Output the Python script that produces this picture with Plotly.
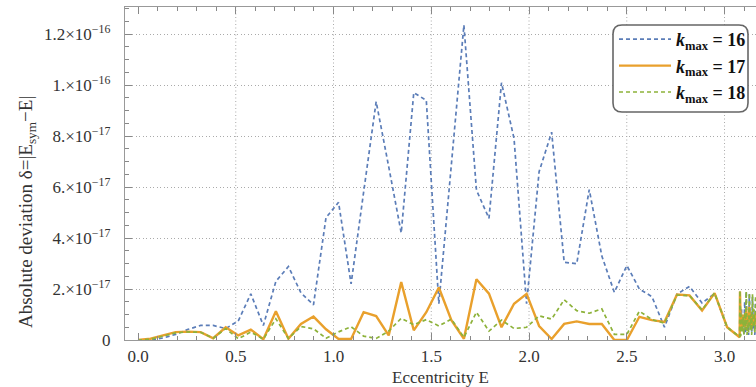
import numpy as np
import plotly.graph_objects as go

# sampling grid in eccentricity E (k * pi/49, k = 0..48) plus dense tail near pi
E_grid = np.arange(49) * np.pi / 49
E_tail = [3.079, 3.083, 3.087, 3.091, 3.095, 3.099, 3.103, 3.107, 3.111, 3.115,
          3.119, 3.123, 3.127, 3.131, 3.135, 3.139, 3.143, 3.147, 3.151, 3.155, 3.159]

# absolute deviations, in units of 1e-17
dev_k16 = [0.0, 0.0, 0.08, 0.22, 0.42, 0.57, 0.57, 0.45, 0.75, 1.81,
           0.57, 2.3, 2.88, 1.85, 1.38, 4.8, 5.4, 2.2, 5.8, 9.35,
           6.8, 4.2, 9.7, 9.4, 1.42, 6.9, 12.35, 5.88, 4.77, 10.09,
           7.9, 1.42, 6.6, 8.15, 3.05, 2.99, 5.9, 3.3, 1.87, 2.92,
           2.0, 1.7, 0.5, 1.8, 2.1, 1.45, 1.82, 0.5, 0.12]
dev_k17 = [0.0, 0.05, 0.18, 0.31, 0.33, 0.31, 0.07, 0.50, 0.18, 0.41,
           0.03, 1.13, 0.05, 0.63, 0.92, 0.42, 0.04, 0.04, 1.09, 0.94,
           0.18, 2.27, 0.38, 1.09, 2.06, 0.78, 0.05, 2.38, 1.82, 0.5,
           1.42, 1.81, 0.55, 0.04, 0.63, 0.73, 0.63, 0.63, 0.0, 0.0,
           0.91, 0.78, 0.71, 1.78, 1.75, 1.16, 1.84, 0.5, 0.11]
dev_k18 = [0.0, 0.03, 0.15, 0.28, 0.32, 0.30, 0.07, 0.45, 0.05, 0.31,
           0.03, 0.83, 0.06, 0.53, 0.44, 0.07, 0.32, 0.52, 0.15, 0.06,
           0.35, 0.85, 0.6, 0.8, 0.55, 0.82, 0.1, 1.09, 0.35, 0.78,
           0.45, 0.5, 0.95, 0.82, 1.58, 1.15, 1.05, 1.22, 0.22, 0.22,
           1.13, 0.8, 0.66, 1.76, 1.74, 1.18, 1.84, 0.5, 0.12]

tail_k16 = [1.94, 0.3, 1.2, 0.5, 0.8, 0.2, 1.5, 0.3, 1.9, 0.4, 0.7, 0.2, 1.8, 0.5, 1.1, 0.3, 1.7, 0.4, 0.9, 0.2, 1.6]
tail_k17 = [1.9, 0.6, 0.9, 0.5, 1.0, 0.7, 0.8, 0.5, 1.2, 0.6, 0.9, 0.7, 1.3, 0.6, 0.9, 0.5, 1.0, 0.8, 0.7, 0.6, 1.1]
tail_k18 = [1.94, 0.15, 1.0, 0.3, 0.9, 0.2, 1.1, 0.4, 1.9, 0.2, 0.8, 0.3, 1.85, 0.4, 1.0, 0.2, 1.8, 0.5, 1.2, 0.3, 1.7]

series_names = ["<b><i>k</i><sub>max</sub> = 16</b>", "<b><i>k</i><sub>max</sub> = 17</b>", "<b><i>k</i><sub>max</sub> = 18</b>"]
y_tickvals = [0, 2e-17, 4e-17, 6e-17, 8e-17, 1e-16, 1.2e-16]
y_ticktext = ["0", "2.×10<sup>−17</sup>", "4.×10<sup>−17</sup>", "6.×10<sup>−17</sup>",
              "8.×10<sup>−17</sup>", "1.×10<sup>−16</sup>", "1.2×10<sup>−16</sup>"]
x_tickvals = [0.0, 0.5, 1.0, 1.5, 2.0, 2.5, 3.0]
x_ticktext = ["0.0", "0.5", "1.0", "1.5", "2.0", "2.5", "3.0"]

E_all = list(E_grid) + E_tail
scale = 1e-17
y16 = [v * scale for v in dev_k16 + tail_k16]
y17 = [v * scale for v in dev_k17 + tail_k17]
y18 = [v * scale for v in dev_k18 + tail_k18]

SERIF = "Liberation Serif"
GRID_DOT = "1px,2.5px"
fig = go.Figure()
fig.add_trace(go.Scatter(x=E_all, y=y16, mode="lines", name=series_names[0], legendgroup="a",
                         line=dict(color="#5B7DB8", width=1.7, dash="4px,3px")))
fig.add_trace(go.Scatter(x=E_all, y=y17, mode="lines", name=series_names[1], legendgroup="b",
                         line=dict(color="#E9A02C", width=2.4)))
fig.add_trace(go.Scatter(x=E_all, y=y18, mode="lines", name=series_names[2], legendgroup="c",
                         line=dict(color="#8DB23A", width=1.7, dash="4px,3px")))

shapes = []
for xv in x_tickvals[1:]:
    shapes.append(dict(type="line", xref="x", yref="paper", x0=xv, x1=xv, y0=0, y1=1,
                       line=dict(color="#AAAAAA", width=1, dash=GRID_DOT), layer="below"))

# rounded legend frame
x0, x1 = (613 - 125) / 631, (748 - 125) / 631
yb, yt = (340 - 112) / 333, (340 - 25) / 333
rx, ry = 9 / 631, 9 / 333
path = (f"M {x0+rx},{yt} L {x1-rx},{yt} Q {x1},{yt} {x1},{yt-ry} L {x1},{yb+ry} "
        f"Q {x1},{yb} {x1-rx},{yb} L {x0+rx},{yb} Q {x0},{yb} {x0},{yb+ry} "
        f"L {x0},{yt-ry} Q {x0},{yt} {x0+rx},{yt} Z")
shapes.append(dict(type="path", xref="paper", yref="paper", path=path,
                   fillcolor="white", line=dict(color="#666666", width=1.6), layer="above"))

fig.update_layout(
    width=756, height=387,
    margin=dict(l=125, r=0, t=7, b=47),
    paper_bgcolor="white", plot_bgcolor="white",
    shapes=shapes,
    showlegend=True,
    legend=dict(x=(614 - 125) / 631, y=(340 - 21) / 333, xanchor="left", yanchor="top",
                bgcolor="rgba(0,0,0,0)", borderwidth=0, tracegroupgap=0, itemwidth=52,
                font=dict(family=SERIF, size=18, color="#111111")),
    annotations=[dict(text="Absolute deviation δ=|E<sub>sym</sub>−E|", xref="paper", yref="paper",
                      x=(27 - 125) / 631, y=(340 - 212) / 333, xanchor="center", yanchor="middle",
                      textangle=-90, showarrow=False,
                      font=dict(family=SERIF, size=19, color="#333333"))],
)
fig.update_xaxes(range=[-0.0665, 3.161], tickvals=x_tickvals, ticktext=x_ticktext,
                 ticks="inside", ticklen=7, tickcolor="#888888", showgrid=False, zeroline=False,
                 showline=True, linecolor="#999999", linewidth=1.3, mirror="ticks",
                 minor=dict(dtick=0.1, tick0=0, ticks="inside", ticklen=4, tickcolor="#888888", showgrid=False),
                 tickfont=dict(family=SERIF, size=17, color="#333333"),
                 title=dict(text="Eccentricity E", font=dict(family=SERIF, size=17, color="#333333"), standoff=6))
fig.update_yaxes(range=[0, 1.306e-16], tickvals=y_tickvals, ticktext=y_ticktext,
                 ticks="inside", ticklen=7, tickcolor="#888888", showgrid=True, gridcolor="#AAAAAA",
                 griddash=GRID_DOT, gridwidth=1, zeroline=False,
                 showline=True, linecolor="#999999", linewidth=1.3, mirror=False,
                 minor=dict(dtick=0.5e-17, tick0=0, ticks="inside", ticklen=4, tickcolor="#888888", showgrid=False),
                 ticklabelstandoff=10,
                 tickfont=dict(family=SERIF, size=17, color="#333333"))

fig.write_html("out.html")
